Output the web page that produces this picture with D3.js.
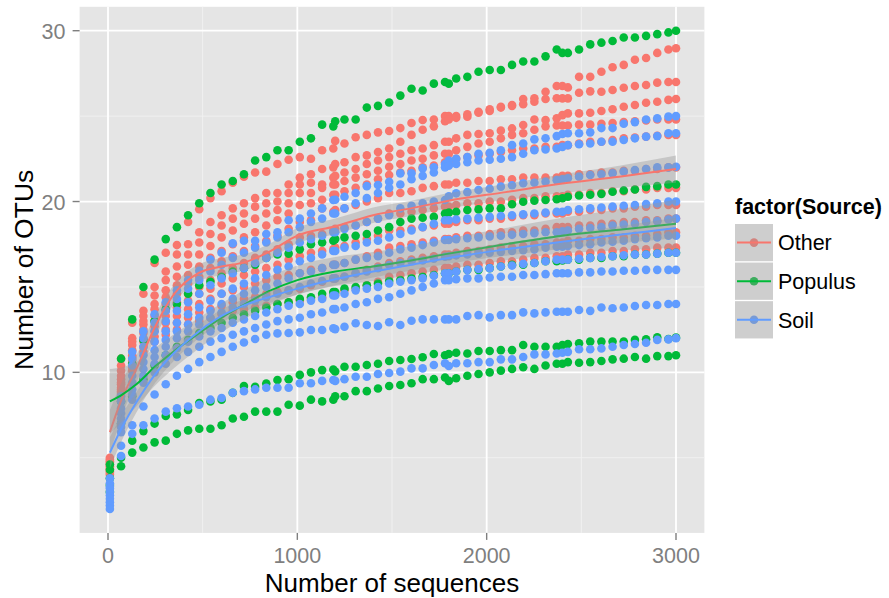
<!DOCTYPE html>
<html>
<head>
<meta charset="utf-8">
<script src="https://cdn.jsdelivr.net/npm/d3@7"></script>
<style>
  body { margin: 0; background: #ffffff; }
  svg { display: block; }
  text { font-family: "Liberation Sans", Arial, Helvetica, sans-serif; }
</style>
</head>
<body>
<div id="chart"></div>
<script>
// Rarefaction depths (number of sequences sampled)
const depths = [10, 69, 128, 187, 246, 305, 364, 423, 482, 541, 600,
  659, 718, 777, 836, 895, 954, 1013, 1072, 1131, 1190, 1200,
  1249, 1308, 1367, 1426, 1485, 1544, 1603, 1662, 1721, 1780, 1800,
  1839, 1898, 1957, 2016, 2075, 2134, 2193, 2252, 2311, 2370, 2400,
  2429, 2488, 2547, 2606, 2665, 2724, 2783, 2842, 2901, 2960, 3000];

const sources = ["Other", "Populus", "Soil"];
const sourceColors = ["#F8766D", "#00BA38", "#619CFF"];

// Observed OTUs per sample, one row per sample, one value per depth
const otherRuns = [
  [5.0, 10.8, 12.9, 14.6, 16.4, 17.0, 17.45, 18.8, 19.55, 20.2, 20.6,
   21.1, 21.45, 21.7, 21.75, 22.2, 22.45, 22.6, 22.5, 23.0, 23.1, 23.55,
   23.4, 23.76, 23.9, 24.05, 24.13, 24.3, 24.6, 24.77, 24.8, 25.0, 25.0,
   25.0, 24.97, 25.26, 25.4, 25.55, 25.65, 26.0, 26.05, 26.43, 26.76, 26.76,
   26.68, 27.3, 27.3, 27.6, 27.86, 28.0, 28.3, 28.4, 28.7, 28.9, 28.97],
  [4.8, 10.4, 12.0, 13.6, 15.0, 15.9, 16.9, 17.5, 18.2, 18.8, 19.2,
   19.6, 19.9, 20.2, 20.5, 20.5, 21.0, 21.4, 21.6, 21.9, 22.0, 22.2,
   22.3, 22.6, 22.7, 22.9, 23.1, 23.5, 23.9, 24.2, 24.4, 24.7, 24.8,
   24.9, 25.1, 25.2, 25.3, 25.5, 25.6, 25.7, 25.84, 26.0, 26.05, 26.04,
   26.04, 26.37, 26.45, 26.43, 26.53, 26.66, 26.76, 26.82, 26.96, 27.0, 27.0],
  [4.5, 10.1, 11.8, 13.3, 14.5, 15.4, 16.2, 16.9, 17.6, 18.1, 18.6,
   19.0, 19.3, 19.7, 19.9, 20.0, 20.5, 21.0, 21.1, 21.0, 21.4, 21.5,
   21.7, 21.9, 22.2, 22.4, 22.6, 22.8, 23.0, 23.1, 23.3, 23.5, 23.5,
   23.7, 23.9, 23.95, 24.0, 24.15, 24.28, 24.48, 24.8, 24.77, 24.87, 25.06,
   25.16, 25.16, 25.2, 25.3, 25.4, 25.55, 25.65, 25.78, 25.84, 25.95, 26.0],
  [4.9, 9.8, 11.6, 13.0, 14.0, 14.8, 15.6, 16.3, 16.9, 17.4, 17.9,
   18.3, 18.7, 19.0, 19.3, 19.5, 19.9, 20.5, 20.5, 20.8, 21.0, 21.0,
   21.2, 21.4, 21.6, 21.8, 22.04, 22.2, 22.4, 22.5, 22.7, 22.8, 22.8,
   23.0, 23.2, 23.4, 23.5, 23.7, 23.9, 24.0, 24.2, 24.4, 24.45, 24.45,
   24.45, 24.5, 24.5, 24.55, 24.6, 24.65, 24.7, 24.75, 24.8, 24.8, 24.8],
  [4.3, 9.6, 11.3, 12.8, 13.7, 14.4, 15.1, 15.7, 16.2, 16.7, 17.1,
   17.5, 17.9, 18.2, 18.6, 18.9, 19.3, 19.8, 19.9, 20.1, 20.4, 20.4,
   20.6, 20.8, 21.0, 21.3, 21.55, 21.7, 21.8, 22.0, 22.1, 22.3, 22.3,
   22.5, 22.6, 22.7, 22.8, 22.9, 23.0, 23.1, 23.1, 23.2, 23.2, 23.3,
   23.3, 23.4, 23.5, 23.5, 23.6, 23.7, 23.75, 23.8, 23.85, 23.9, 23.9],
  [4.6, 9.4, 11.0, 12.5, 13.3, 14.0, 14.6, 15.2, 15.6, 16.1, 16.5,
   16.8, 17.1, 17.4, 17.7, 18.0, 18.4, 18.8, 18.9, 19.6, 19.4, 19.5,
   19.6, 19.8, 20.0, 20.2, 20.5, 20.5, 20.6, 20.8, 20.9, 21.0, 21.0,
   21.1, 21.1, 21.2, 21.2, 21.3, 21.3, 21.4, 21.4, 21.4, 21.4, 21.5,
   21.5, 21.6, 21.6, 21.7, 21.7, 21.8, 21.8, 21.9, 21.9, 22.0, 22.0],
  [4.4, 9.3, 10.9, 12.3, 13.0, 13.6, 14.1, 14.6, 15.0, 15.4, 15.8,
   16.1, 16.4, 16.7, 16.9, 17.2, 17.5, 17.9, 18.0, 18.1, 18.3, 18.4,
   18.5, 18.6, 18.8, 19.0, 19.3, 19.3, 19.4, 19.5, 19.6, 19.7, 19.7,
   19.8, 19.9, 19.9, 20.0, 20.0, 20.1, 20.2, 20.2, 20.3, 20.3, 20.3,
   20.4, 20.4, 20.5, 20.5, 20.6, 20.6, 20.7, 20.7, 20.8, 20.8, 20.8],
  [4.2, 9.1, 10.7, 12.0, 12.7, 13.3, 13.8, 14.2, 14.6, 14.9, 15.2,
   15.5, 15.7, 15.9, 16.1, 16.3, 16.6, 16.8, 17.0, 17.1, 17.2, 17.3,
   17.4, 17.6, 17.8, 18.0, 18.3, 18.3, 18.4, 18.5, 18.6, 18.7, 18.7,
   18.8, 18.9, 18.9, 19.0, 19.0, 19.1, 19.2, 19.2, 19.3, 19.3, 19.3,
   19.4, 19.4, 19.5, 19.5, 19.6, 19.6, 19.7, 19.7, 19.8, 19.8, 19.8],
  [4.0, 9.0, 10.5, 11.8, 12.4, 12.9, 13.3, 13.7, 14.0, 14.3, 14.6,
   14.8, 15.0, 15.2, 15.4, 15.6, 15.7, 15.8, 16.0, 16.1, 16.3, 16.3,
   16.4, 16.6, 16.8, 17.0, 17.3, 17.4, 17.5, 17.6, 17.7, 17.8, 17.8,
   17.9, 18.0, 18.0, 18.1, 18.2, 18.2, 18.3, 18.3, 18.4, 18.5, 18.5,
   18.5, 18.6, 18.6, 18.7, 18.7, 18.8, 18.8, 18.9, 18.9, 19.0, 19.0],
  [4.7, 8.9, 10.3, 11.5, 12.1, 12.5, 12.9, 13.2, 13.5, 13.7, 13.9,
   14.1, 14.3, 14.4, 14.6, 14.7, 14.8, 14.9, 15.1, 15.3, 15.5, 15.5,
   15.6, 15.8, 16.0, 16.2, 16.4, 16.5, 16.6, 16.7, 16.8, 16.9, 16.9,
   17.0, 17.1, 17.1, 17.2, 17.3, 17.3, 17.4, 17.5, 17.5, 17.6, 17.6,
   17.7, 17.7, 17.8, 17.8, 17.9, 17.9, 18.0, 18.0, 18.1, 18.2, 18.2],
  [4.1, 8.8, 10.1, 11.2, 11.8, 12.2, 12.5, 12.8, 13.0, 13.2, 13.4,
   13.6, 13.7, 13.8, 13.9, 14.0, 14.1, 14.2, 14.3, 14.4, 14.6, 14.6,
   14.8, 14.9, 15.1, 15.3, 15.6, 15.7, 15.8, 15.9, 16.0, 16.1, 16.1,
   16.2, 16.3, 16.3, 16.4, 16.5, 16.5, 16.6, 16.7, 16.7, 16.8, 16.8,
   16.9, 16.9, 17.0, 17.0, 17.1, 17.1, 17.2, 17.2, 17.3, 17.3, 17.3]
];

const populusRuns = [
  [4.6, 10.8, 13.1, 15.0, 16.6, 17.8, 18.5, 19.2, 19.9, 20.5, 21.0,
   21.2, 21.6, 22.4, 22.6, 23.0, 23.0, 23.5, 23.7, 24.5, 24.4, 24.7,
   24.8, 24.8, 25.5, 25.6, 25.8, 26.2, 26.6, 26.5, 26.9, 27.0, 26.9,
   27.2, 27.3, 27.6, 27.7, 27.7, 28.0, 28.2, 28.2, 28.5, 28.9, 28.7,
   28.7, 28.9, 29.2, 29.3, 29.4, 29.6, 29.6, 29.7, 29.8, 29.9, 30.0],
  [4.3, 8.3, 10.5, 11.9, 13.0, 13.7, 14.0, 14.6, 15.1, 15.3, 15.6,
   15.9, 16.1, 16.3, 16.7, 16.9, 16.95, 17.2, 17.5, 17.6, 17.7, 17.8,
   17.9, 18.0, 18.1, 18.3, 18.5, 18.8, 19.0, 19.05, 19.1, 19.3, 19.35,
   19.4, 19.5, 19.54, 19.6, 19.6, 19.84, 19.99, 20.05, 20.09, 20.13, 20.19,
   20.28, 20.35, 20.4, 20.45, 20.57, 20.65, 20.7, 20.86, 20.9, 21.0, 21.0],
  [3.8, 7.0, 8.6, 9.6, 10.4, 11.0, 11.5, 11.9, 12.3, 12.6, 12.9,
   13.2, 13.4, 13.6, 13.8, 14.0, 14.1, 14.3, 14.4, 14.6, 14.7, 14.7,
   14.9, 15.0, 15.1, 15.2, 15.35, 15.4, 15.5, 15.6, 15.7, 15.8, 15.8,
   15.9, 16.0, 16.0, 16.1, 16.2, 16.3, 16.3, 16.4, 16.5, 16.5, 16.55,
   16.6, 16.6, 16.7, 16.7, 16.8, 16.8, 16.9, 16.9, 16.95, 17.0, 17.0],
  [3.4, 5.0, 6.0, 6.56, 7.0, 7.44, 7.54, 7.8, 8.2, 8.3, 8.4,
   8.8, 9.2, 9.15, 9.35, 9.55, 9.6, 9.85, 10.0, 10.13, 10.17, 10.05,
   10.33, 10.33, 10.43, 10.5, 10.66, 10.72, 10.78, 10.88, 11.07, 11.0, 11.07,
   11.15, 11.1, 11.25, 11.25, 11.3, 11.3, 11.6, 11.5, 11.5, 11.5, 11.6,
   11.66, 11.7, 11.8, 11.8, 11.8, 11.8, 11.9, 11.93, 12.05, 11.95, 12.03],
  [3.0, 4.5, 5.3, 5.6, 5.9, 6.0, 6.4, 6.6, 6.7, 6.7, 6.9,
   7.3, 7.4, 7.7, 7.7, 7.7, 8.1, 8.05, 8.4, 8.3, 8.4, 8.6,
   8.6, 8.9, 8.9, 9.05, 9.2, 9.26, 9.36, 9.6, 9.6, 9.7, 9.5,
   9.65, 9.8, 9.9, 10.0, 10.1, 10.2, 10.3, 10.2, 10.4, 10.5, 10.5,
   10.6, 10.56, 10.6, 10.66, 10.76, 10.8, 10.9, 10.8, 10.95, 10.95, 11.0]
];

const soilRuns = [
  [3.8, 8.6, 11.2, 12.4, 13.4, 14.1, 14.8, 15.4, 15.95, 16.6, 17.0,
   17.55, 17.7, 17.7, 18.1, 18.2, 18.9, 19.0, 19.3, 19.6, 20.09, 20.1,
   20.28, 20.5, 20.9, 20.97, 21.16, 21.65, 21.65, 21.94, 22.0, 22.2, 22.4,
   22.5, 22.6, 22.8, 22.85, 23.0, 23.3, 23.4, 23.64, 23.7, 23.83, 23.95,
   24.0, 24.0, 24.05, 24.3, 24.3, 24.55, 24.65, 24.8, 24.87, 24.97, 25.0],
  [3.5, 8.3, 10.8, 12.0, 12.9, 13.6, 14.3, 14.9, 15.4, 15.9, 16.3,
   16.7, 17.0, 17.3, 17.6, 17.9, 18.2, 18.5, 18.8, 19.0, 19.3, 19.3,
   19.6, 19.9, 20.2, 20.5, 20.8, 21.0, 21.3, 21.5, 21.7, 22.0, 22.1,
   22.2, 22.3, 22.4, 22.45, 22.5, 22.6, 22.8, 23.0, 23.05, 23.1, 23.2,
   23.3, 23.35, 23.4, 23.5, 23.5, 23.6, 23.7, 23.8, 23.83, 24.0, 24.0],
  [3.3, 7.9, 10.4, 11.5, 12.4, 13.0, 13.6, 14.1, 14.6, 15.1, 15.5,
   15.8, 16.1, 16.4, 16.7, 17.0, 17.3, 17.6, 17.8, 18.0, 18.2, 18.2,
   18.4, 18.6, 18.8, 19.0, 19.2, 19.6, 19.75, 19.9, 20.0, 20.09, 20.3,
   20.48, 20.55, 20.67, 20.75, 20.87, 20.95, 21.07, 21.1, 21.16, 21.25, 21.3,
   21.36, 21.45, 21.55, 21.6, 21.65, 21.75, 21.84, 21.9, 22.0, 22.0, 22.04],
  [3.0, 7.6, 9.8, 11.0, 11.8, 12.4, 12.9, 13.4, 13.8, 14.2, 14.6,
   14.9, 15.2, 15.5, 15.7, 16.0, 16.2, 16.5, 16.7, 16.9, 17.1, 17.1,
   17.3, 17.4, 17.6, 17.7, 17.9, 18.1, 18.3, 18.5, 18.7, 18.9, 18.9,
   18.95, 19.0, 19.05, 19.1, 19.15, 19.2, 19.25, 19.3, 19.35, 19.4, 19.4,
   19.5, 19.55, 19.6, 19.65, 19.7, 19.75, 19.8, 19.85, 19.9, 20.0, 20.0],
  [2.8, 7.3, 9.4, 10.6, 11.3, 11.9, 12.4, 12.8, 13.2, 13.6, 14.0,
   14.3, 14.6, 14.8, 15.0, 15.2, 15.5, 15.8, 15.9, 16.1, 16.3, 16.3,
   16.4, 16.6, 16.7, 16.8, 17.0, 17.2, 17.3, 17.45, 17.6, 17.75, 17.75,
   17.8, 17.85, 17.9, 17.95, 18.0, 18.05, 18.1, 18.15, 18.2, 18.2, 18.25,
   18.3, 18.4, 18.45, 18.5, 18.6, 18.65, 18.7, 18.8, 18.85, 18.95, 19.0],
  [2.6, 7.0, 9.0, 10.2, 10.9, 11.5, 12.0, 12.4, 12.8, 13.2, 13.5,
   13.8, 14.0, 14.2, 14.4, 14.6, 14.8, 15.0, 15.2, 15.35, 15.5, 15.5,
   15.6, 15.8, 15.9, 16.1, 16.28, 16.4, 16.5, 16.55, 16.65, 16.77, 16.8,
   16.85, 16.9, 16.95, 17.0, 17.05, 17.1, 17.15, 17.2, 17.3, 17.35, 17.35,
   17.4, 17.45, 17.5, 17.6, 17.65, 17.7, 17.8, 17.85, 17.9, 18.0, 18.0],
  [2.4, 6.8, 8.7, 9.8, 10.5, 11.0, 11.4, 11.8, 12.1, 12.4, 12.6,
   12.9, 13.1, 13.3, 13.5, 13.7, 13.9, 14.0, 14.2, 14.3, 14.5, 14.5,
   14.6, 14.8, 14.9, 15.0, 15.2, 15.3, 15.4, 15.5, 15.65, 15.8, 15.8,
   15.9, 16.0, 16.05, 16.1, 16.2, 16.25, 16.35, 16.4, 16.5, 16.6, 16.6,
   16.6, 16.65, 16.7, 16.75, 16.8, 16.85, 16.9, 16.9, 16.95, 17.0, 17.0],
  [2.2, 6.5, 8.4, 9.4, 10.0, 10.5, 10.9, 11.2, 11.5, 11.8, 12.0,
   12.2, 12.4, 12.6, 12.8, 13.0, 13.1, 13.2, 13.4, 13.5, 13.7, 13.7,
   13.8, 14.0, 14.1, 14.3, 14.4, 14.6, 14.8, 15.0, 15.2, 15.4, 15.4,
   15.45, 15.5, 15.5, 15.55, 15.6, 15.6, 15.7, 15.7, 15.75, 15.8, 15.8,
   15.8, 15.85, 15.85, 15.9, 15.9, 15.95, 15.95, 16.0, 16.0, 16.0, 16.0],
  [3.2, 5.1, 6.9, 8.0, 8.7, 9.3, 9.8, 10.2, 10.6, 10.9, 11.2,
   11.5, 11.75, 11.95, 12.2, 12.28, 12.3, 12.34, 12.48, 12.48, 12.58, 12.53,
   12.67, 12.87, 12.77, 12.71, 12.93, 12.77, 13.02, 13.1, 13.1, 13.1, 13.1,
   13.1, 13.3, 13.35, 13.22, 13.35, 13.35, 13.51, 13.45, 13.51, 13.55, 13.55,
   13.55, 13.65, 13.6, 13.8, 13.75, 13.8, 13.88, 13.94, 13.94, 14.0, 14.0],
  [2.0, 5.7, 6.4, 6.9, 7.3, 7.7, 7.9, 8.0, 8.1, 8.4, 8.5,
   8.8, 8.9, 9.0, 9.1, 9.1, 9.1, 9.36, 9.36, 9.5, 9.55, 9.5,
   9.6, 9.74, 9.74, 9.9, 9.96, 10.04, 10.23, 10.23, 10.43, 10.53, 10.37,
   10.53, 10.53, 10.6, 10.6, 10.76, 10.76, 10.9, 11.05, 11.05, 11.1, 11.15,
   11.2, 11.35, 11.35, 11.4, 11.5, 11.6, 11.66, 11.73, 11.9, 11.93, 12.0]
];

// Fitted smooth per source with its standard-error half width
const smoothDepths = [10, 75, 150, 250, 350, 475, 600, 725, 850, 1000, 1200, 1400, 1600, 1800, 2100, 2400, 2700, 3000];
const otherFit   = [6.5, 8.5, 10.2, 12.7, 14.6, 15.8, 16.2, 16.45, 17.05, 18.0, 18.55, 19.2, 19.6, 20.05, 20.55, 21.05, 21.45, 21.9];
const otherSe    = [1.3, 1.0, 0.8, 0.65, 0.55, 0.5, 0.5, 0.48, 0.46, 0.45, 0.45, 0.45, 0.45, 0.45, 0.48, 0.55, 0.65, 0.8];
const populusFit = [8.3, 8.7, 9.3, 10.35, 11.25, 12.25, 13.2, 14.0, 14.75, 15.4, 15.9, 16.2, 16.55, 16.95, 17.5, 18.0, 18.35, 18.7];
const populusSe  = [1.9, 1.6, 1.3, 1.1, 1.0, 0.9, 0.85, 0.85, 0.85, 0.85, 0.85, 0.85, 0.85, 0.9, 0.95, 1.05, 1.2, 1.4];
const soilFit    = [5.3, 6.8, 8.25, 9.9, 11.15, 12.35, 13.3, 13.95, 14.4, 14.9, 15.45, 15.9, 16.3, 16.7, 17.2, 17.65, 18.05, 18.45];
const soilSe     = [0.9, 0.75, 0.6, 0.5, 0.45, 0.4, 0.38, 0.36, 0.35, 0.35, 0.35, 0.35, 0.35, 0.35, 0.38, 0.42, 0.5, 0.6];

const xTicks = [0, 1000, 2000, 3000];
const xMinor = [500, 1500, 2500];
const yTicks = [10, 20, 30];
const yMinor = [5, 15, 25];

const W = 889, H = 598;
const svg = d3.select("#chart").append("svg").attr("width", W).attr("height", H);

const x = d3.scaleLinear().domain([-150, 3150]).range([79.6, 704.4]);
const y = d3.scaleLinear().domain([0.6, 31.4]).range([532.9, 6.8]);
const [px0, px1] = x.range();
const [py1, py0] = y.range();

// panel background and grid
svg.append("rect").attr("x", px0).attr("y", py0)
  .attr("width", px1 - px0).attr("height", py1 - py0).attr("fill", "#E5E5E5");

const grid = svg.append("g");
grid.selectAll(".vminor").data(xMinor).join("line")
  .attr("x1", d => x(d)).attr("x2", d => x(d)).attr("y1", py0).attr("y2", py1)
  .attr("stroke", "#F2F2F2").attr("stroke-width", 0.9);
grid.selectAll(".hminor").data(yMinor).join("line")
  .attr("y1", d => y(d)).attr("y2", d => y(d)).attr("x1", px0).attr("x2", px1)
  .attr("stroke", "#F2F2F2").attr("stroke-width", 0.9);
grid.selectAll(".vmajor").data(xTicks).join("line")
  .attr("x1", d => x(d)).attr("x2", d => x(d)).attr("y1", py0).attr("y2", py1)
  .attr("stroke", "#FFFFFF").attr("stroke-width", 1.8);
grid.selectAll(".hmajor").data(yTicks).join("line")
  .attr("y1", d => y(d)).attr("y2", d => y(d)).attr("x1", px0).attr("x2", px1)
  .attr("stroke", "#FFFFFF").attr("stroke-width", 1.8);

const groups = [
  { runs: otherRuns,   fit: otherFit,   se: otherSe },
  { runs: populusRuns, fit: populusFit, se: populusSe },
  { runs: soilRuns,    fit: soilFit,    se: soilSe }
];

// sample points
const pointLayer = svg.append("g");
groups.forEach((g, gi) => {
  const pts = [];
  g.runs.forEach(run => run.forEach((v, i) => pts.push([depths[i], v])));
  pointLayer.append("g").selectAll("circle").data(pts).join("circle")
    .attr("cx", d => x(d[0])).attr("cy", d => y(d[1])).attr("r", 4.3)
    .attr("fill", sourceColors[gi]);
});

// smooth fits with confidence ribbons
const ribbon = d3.area().curve(d3.curveMonotoneX)
  .x(d => x(d.x)).y0(d => y(d.lo)).y1(d => y(d.hi));
const fitLine = d3.line().curve(d3.curveMonotoneX).x(d => x(d.x)).y(d => y(d.v));
groups.forEach((g, gi) => {
  const rows = smoothDepths.map((d, i) => ({ x: d, v: g.fit[i], lo: g.fit[i] - g.se[i], hi: g.fit[i] + g.se[i] }));
  svg.append("path").datum(rows).attr("d", ribbon)
    .attr("fill", "#999999").attr("fill-opacity", 0.4);
  svg.append("path").datum(rows).attr("d", fitLine)
    .attr("fill", "none").attr("stroke", sourceColors[gi]).attr("stroke-width", 2);
});

// axes
const axisGrey = "#7F7F7F";
const axes = svg.append("g");
axes.selectAll(".xt").data(xTicks).join("line")
  .attr("x1", d => x(d)).attr("x2", d => x(d)).attr("y1", py1).attr("y2", py1 + 7)
  .attr("stroke", axisGrey).attr("stroke-width", 1.4);
axes.selectAll(".xl").data(xTicks).join("text")
  .attr("x", d => x(d)).attr("y", 563).attr("text-anchor", "middle")
  .attr("font-size", 21.5).attr("fill", axisGrey).text(d => d);
axes.selectAll(".yt").data(yTicks).join("line")
  .attr("x1", px0 - 7).attr("x2", px0).attr("y1", d => y(d)).attr("y2", d => y(d))
  .attr("stroke", axisGrey).attr("stroke-width", 1.4);
axes.selectAll(".yl").data(yTicks).join("text")
  .attr("x", 65.5).attr("y", d => y(d) + 8).attr("text-anchor", "end")
  .attr("font-size", 21.5).attr("fill", axisGrey).text(d => d);

svg.append("text").attr("x", (px0 + px1) / 2).attr("y", 592).attr("text-anchor", "middle")
  .attr("font-size", 26).attr("fill", "#000").text("Number of sequences");
svg.append("text").attr("transform", `translate(33,${(py0 + py1) / 2}) rotate(-90)`)
  .attr("text-anchor", "middle").attr("font-size", 26.5).attr("fill", "#000")
  .text("Number of OTUs");

// legend
const legend = svg.append("g").attr("transform", "translate(735,0)");
legend.append("text").attr("x", 0).attr("y", 214).attr("font-size", 21.5)
  .attr("font-weight", "bold").attr("fill", "#000").text("factor(Source)");
sources.forEach((s, i) => {
  const top = 224 + i * 38.6;
  const cy = top + 18.6;
  legend.append("rect").attr("x", 0).attr("y", top).attr("width", 38).attr("height", 37.2)
    .attr("fill", "#F2F2F2");
  legend.append("circle").attr("cx", 19).attr("cy", cy).attr("r", 4.3).attr("fill", sourceColors[i]);
  legend.append("rect").attr("x", 0).attr("y", top).attr("width", 38).attr("height", 37.2)
    .attr("fill", "#999999").attr("fill-opacity", 0.4);
  legend.append("line").attr("x1", 2).attr("x2", 36).attr("y1", cy).attr("y2", cy)
    .attr("stroke", sourceColors[i]).attr("stroke-width", 2);
  legend.append("text").attr("x", 43).attr("y", cy + 7.8).attr("font-size", 21.5)
    .attr("fill", "#000").text(s);
});
</script>
</body>
</html>
